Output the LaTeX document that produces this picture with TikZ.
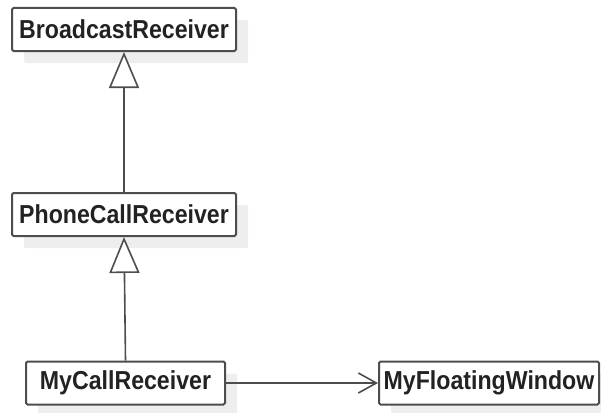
\documentclass[tikz,border=0pt]{standalone}
\usepackage{fontspec}
\usetikzlibrary{arrows.meta,shadows}
\newfontfamily\boxfont{Liberation Sans}[FakeStretch=0.89]
\definecolor{edgegray}{HTML}{4D4D4D}
\definecolor{textgray}{HTML}{222222}
\definecolor{shadegray}{HTML}{EEEEEE}
\begin{document}
\begin{tikzpicture}[x=1pt,y=-1pt,
  classbox/.style={draw=edgegray, line width=2pt, rounded corners=1.5pt, fill=white,
    inner sep=0pt, minimum height=43pt, text=textgray,
    font=\boxfont\bfseries\fontsize{26}{28}\selectfont,
    drop shadow={shadow xshift=12pt, shadow yshift=-12pt, fill=shadegray, opacity=1, draw=none}},
  inherit/.style={draw=edgegray, line width=1.6pt,
    -{Triangle[open, length=36pt, width=30pt, fill=white]}},
  depend/.style={draw=edgegray, line width=1.6pt,
    -{Straight Barb[length=18pt, width=20pt]}}]
  \useasboundingbox (0,0) rectangle (601,412);
  \node[classbox, minimum width=224pt] (bcast) at (124,29.5) {BroadcastReceiver};
  \node[classbox, minimum width=224pt] (phone) at (124,214.5) {PhoneCallReceiver};
  \node[classbox, minimum width=199pt] (mycall) at (125.5,383) {MyCallReceiver};
  \node[classbox, minimum width=220pt] (floatwin) at (489,383) {MyFloatingWindow};
  \draw[inherit] (phone.north) -- (bcast.south);
  \draw[inherit] (mycall.north) -- (phone.south);
  \draw[depend] (mycall.east) -- (floatwin.west);
\end{tikzpicture}
\end{document}
